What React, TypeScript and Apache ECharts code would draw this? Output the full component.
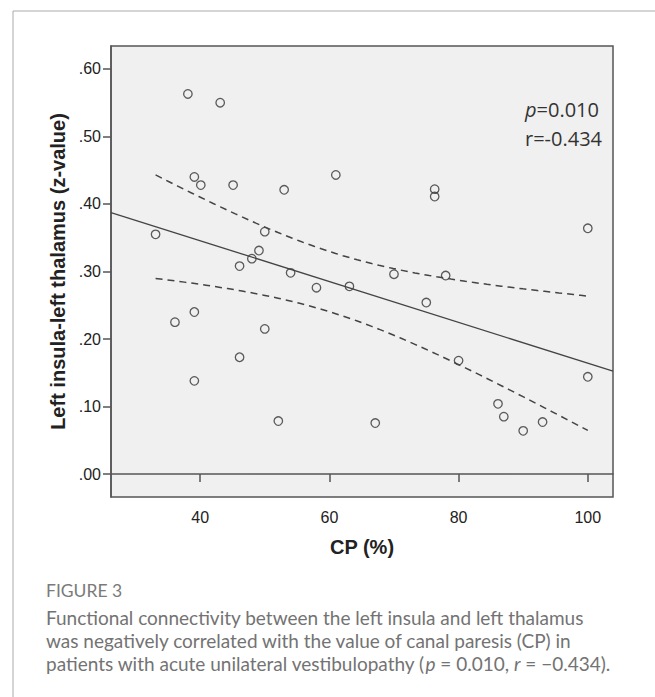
import React, { useEffect, useRef } from "react";
import * as echarts from "echarts";

// CP (%) values
const cpValues: number[] = [
  38.1, 43.1, 39.1, 40.1, 45.1, 53.0, 61.0, 33.1, 50.0, 49.1, 48.0, 46.1, 54.0, 58.0, 63.1,
  76.3, 76.3, 100.0, 70.0, 78.0,
  36.1, 39.1, 50.0, 46.1, 39.1, 52.1, 67.1,
  75.0, 80.0, 100.0, 86.1, 87.0, 90.0, 93.0,
];
// Left insula-left thalamus z-values
const zValues: number[] = [
  0.563, 0.550, 0.440, 0.428, 0.428, 0.421, 0.443, 0.355, 0.359, 0.331, 0.319, 0.308, 0.298, 0.276, 0.278,
  0.422, 0.411, 0.364, 0.296, 0.294,
  0.225, 0.240, 0.215, 0.173, 0.138, 0.0785, 0.0755,
  0.254, 0.168, 0.144, 0.104, 0.085, 0.064, 0.077,
];
const xTicks: number[] = [40, 60, 80, 100];
const yTicks: number[] = [0, 0.1, 0.2, 0.3, 0.4, 0.5, 0.6];
const xRange: number[] = [26.2, 103.9];
const yRange: number[] = [-0.034, 0.634];
const statsLines: string[] = ["{i|p}=0.010", "r=-0.434"];
const tCrit = 2.0369; // t(0.975, df=32)

const captionLabel = "FIGURE 3";
const captionLines: string[] = [
  "Functional connectivity between the left insula and left thalamus",
  "was negatively correlated with the value of canal paresis (CP) in",
  "patients with acute unilateral vestibulopathy ({i|p} = 0.010, {i|r} = \u22120.434).",
];

function fit() {
  const n = cpValues.length;
  const mx = cpValues.reduce((a, b) => a + b, 0) / n;
  const my = zValues.reduce((a, b) => a + b, 0) / n;
  let sxx = 0, sxy = 0;
  for (let i = 0; i < n; i++) {
    sxx += (cpValues[i] - mx) ** 2;
    sxy += (cpValues[i] - mx) * (zValues[i] - my);
  }
  const b = sxy / sxx;
  const a = my - b * mx;
  let sse = 0;
  for (let i = 0; i < n; i++) sse += (zValues[i] - (a + b * cpValues[i])) ** 2;
  const s = Math.sqrt(sse / (n - 2));
  return { n, mx, sxx, a, b, s };
}

export default function App() {
  const ref = useRef<HTMLDivElement>(null);
  useEffect(() => {
    if (!ref.current) return;
    const chart = echarts.init(ref.current, undefined, { renderer: "svg" });
    const { n, mx, sxx, a, b, s } = fit();
    const xMin = Math.min(...cpValues);
    const xMax = Math.max(...cpValues);
    const upper: number[][] = [];
    const lower: number[][] = [];
    const steps = 60;
    for (let k = 0; k <= steps; k++) {
      const x = xMin + ((xMax - xMin) * k) / steps;
      const yh = a + b * x;
      const h = tCrit * s * Math.sqrt(1 / n + (x - mx) ** 2 / sxx);
      upper.push([x, yh + h]);
      lower.push([x, yh - h]);
    }
    const fitLine = [
      [xRange[0], a + b * xRange[0]],
      [xRange[1], a + b * xRange[1]],
    ];
    const axisColor = "#555";
    const arial = "Liberation Sans, Arial, sans-serif";
    const capFont = "Lato, 'Open Sans', sans-serif";
    const captionTexts = captionLines.map((line, i) => ({
      type: "text",
      left: 46,
      top: 606 + i * 23,
      style: {
        text: line, fill: "#737373", font: `19px ${capFont}`,
        lineHeight: 22,
        rich: { i: { fontStyle: "italic", fontSize: 19, fontFamily: capFont, fill: "#737373", lineHeight: 22 } },
      },
    }));
    chart.setOption({
      animation: false,
      grid: {
        left: 111, top: 46, right: 42, bottom: 200,
        show: true, backgroundColor: "#f0f0f0", borderColor: axisColor, borderWidth: 1.5,
      },
      xAxis: {
        type: "value", min: xRange[0], max: xRange[1],
        axisLine: { show: true, lineStyle: { color: axisColor, width: 1.5 } },
        axisTick: { show: true, length: 8, lineStyle: { color: axisColor, width: 1.5 }, customValues: xTicks },
        axisLabel: { customValues: xTicks, color: "#222", fontSize: 16, margin: 12, fontFamily: arial },
        splitLine: { show: false },
        name: "CP (%)", nameLocation: "middle", nameGap: 40,
        nameTextStyle: { fontSize: 20, fontWeight: "bold", color: "#222", fontFamily: arial },
      },
      yAxis: {
        type: "value", min: yRange[0], max: yRange[1],
        axisLine: { show: true, lineStyle: { color: axisColor, width: 1.5 } },
        axisTick: { show: true, length: 8, lineStyle: { color: axisColor, width: 1.5 }, customValues: yTicks },
        axisLabel: {
          customValues: yTicks, color: "#222", fontSize: 16, margin: 10, fontFamily: arial,
          formatter: (v: number) => v.toFixed(2).replace(/^0/, ""),
        },
        splitLine: { show: false },
        name: "Left insula-left thalamus (z-value)", nameLocation: "middle", nameGap: 43,
        nameTextStyle: { fontSize: 20, fontWeight: "bold", color: "#222", fontFamily: arial },
      },
      series: [
        {
          type: "line", data: fitLine, symbol: "none", silent: true,
          lineStyle: { color: "#444", width: 1.3 },
        },
        {
          type: "line", data: upper, symbol: "none", silent: true,
          lineStyle: { color: "#444", width: 1.5, type: [7, 5] },
        },
        {
          type: "line", data: lower, symbol: "none", silent: true,
          lineStyle: { color: "#444", width: 1.5, type: [7, 5] },
        },
        {
          type: "scatter", data: cpValues.map((x, i) => [x, zValues[i]]),
          symbol: "circle", symbolSize: 8.5,
          itemStyle: { color: "rgba(0,0,0,0)", borderColor: "#333", borderWidth: 1.3 },
        },
      ],
      graphic: [
        { type: "line", shape: { x1: 13, y1: 11, x2: 655, y2: 11 }, style: { stroke: "#aaa", lineWidth: 1 } },
        { type: "line", shape: { x1: 13, y1: 11, x2: 13, y2: 697 }, style: { stroke: "#aaa", lineWidth: 1 } },
        {
          type: "text", right: 53, top: 95,
          style: {
            text: statsLines.join("\n"), fill: "#333", font: "20px 'Open Sans', sans-serif",
            lineHeight: 29, align: "left",
            rich: { i: { fontStyle: "italic", fontSize: 20, fontFamily: "Open Sans", fill: "#333" } },
          },
        },
        {
          type: "text", left: 46, top: 581,
          style: { text: captionLabel, fill: "#7a7a7a", font: `17.5px ${capFont}` },
        },
        ...captionTexts,
      ],
    });
    return () => chart.dispose();
  }, []);
  return (
    <div style={{ position: "absolute", left: 0, top: 0, width: 655, height: 697, background: "#fff" }}>
      <div ref={ref} style={{ width: 655, height: 697 }} />
    </div>
  );
}
